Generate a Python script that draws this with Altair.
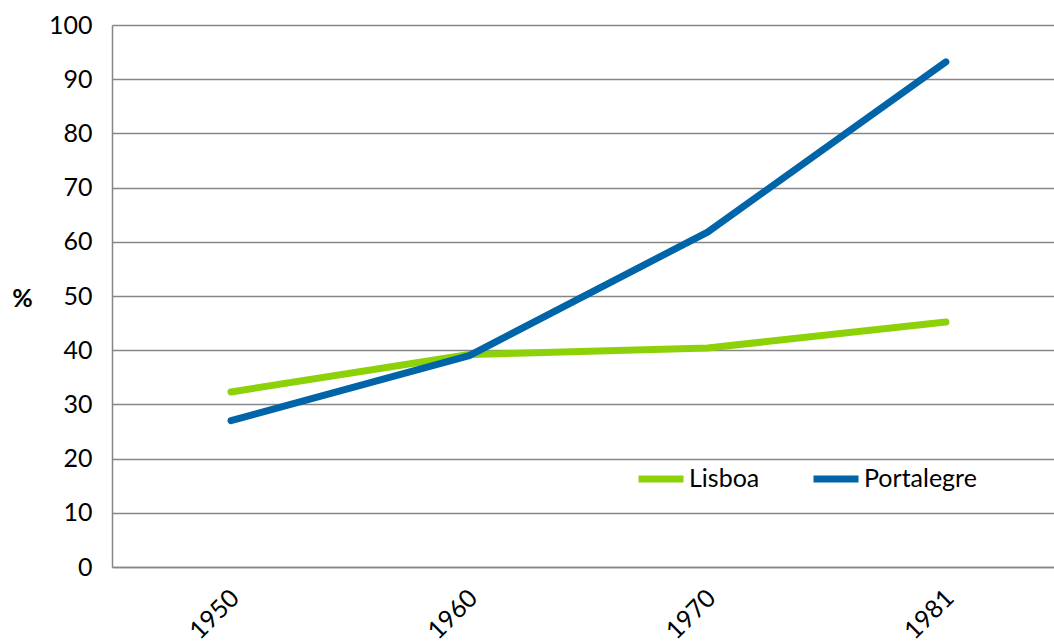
import altair as alt
import pandas as pd

# Census years and share (%) for each district
years = ["1950", "1960", "1970", "1981"]
lisboa = [32.3, 39.2, 40.4, 45.2]
portalegre = [27.0, 39.0, 61.8, 93.2]
series = ["Lisboa", "Portalegre"]
colors = ["#8DD108", "#0064A8"]
y_ticks = list(range(0, 101, 10))

rows = []
for name, vals in zip(series, [lisboa, portalegre]):
    for yr, v in zip(years, vals):
        rows.append({"ano": yr, "serie": name, "valor": v})
df = pd.DataFrame(rows)

FONT = "Lato"
SIZE = 25

chart = (
    alt.Chart(df)
    .mark_line(strokeWidth=7, strokeCap="round", strokeJoin="round")
    .encode(
        x=alt.X(
            "ano:O",
            sort=years,
            scale=alt.Scale(type="point", padding=0.4766, align=0.524),
            axis=alt.Axis(
                title=None,
                labelAngle=-45,
                labelAlign="right",
                labelBaseline="top",
                labelPadding=18,
                labelOffset=-5,
                ticks=False,
                grid=False,
            ),
        ),
        y=alt.Y(
            "valor:Q",
            scale=alt.Scale(domain=[0, 100], nice=False),
            axis=alt.Axis(
                title="%",
                titleAngle=0,
                titleX=-90,
                titleY=273,
                titleAlign="center",
                titleBaseline="middle",
                titleFontWeight="bold",
                titleFontSize=25,
                values=y_ticks,
                ticks=False,
                labelPadding=20,
                grid=True,
            ),
        ),
        color=alt.Color(
            "serie:N",
            scale=alt.Scale(domain=series, range=colors),
            legend=alt.Legend(
                title=None,
                orient="none",
                direction="horizontal",
                legendX=523,
                legendY=428,
                symbolType="stroke",
                symbolSize=2025,
                symbolStrokeWidth=7,
                labelOffset=2,
                columnPadding=39,
                padding=0,
            ),
        ),
        order=alt.Order("serie:N"),
    )
    .properties(
        width=942,
        height=542,
        autosize=alt.AutoSizeParams(type="none"),
        padding={"left": 112, "top": 25, "right": 0, "bottom": 77},
    )
    .configure_view(stroke=None)
    .configure_axis(
        labelFont=FONT,
        titleFont=FONT,
        labelFontSize=SIZE,
        labelColor="#000000",
        titleColor="#000000",
        domainColor="#868686",
        domainWidth=1.5,
        gridColor="#868686",
        gridWidth=1.3,
    )
    .configure_legend(labelFont=FONT, labelFontSize=SIZE, labelColor="#000000")
)

chart.save("out.html", embed_options={"renderer": "svg", "actions": False})
